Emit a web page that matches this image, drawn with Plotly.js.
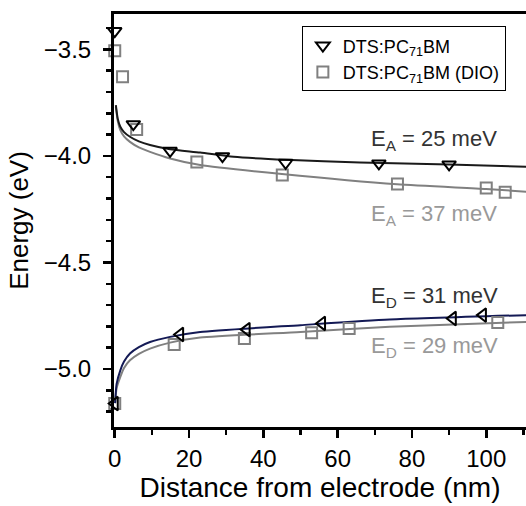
<!DOCTYPE html>
<html>
<head>
<meta charset="utf-8">
<script src="https://cdn.plot.ly/plotly-3.0.1.min.js"></script>
<style>html,body{margin:0;padding:0;background:#fff;overflow:hidden}#chart{width:526px;height:506px}</style>
</head>
<body>
<div id="chart"></div>
<script>
// Acceptor level (LUMO) data points
const accDtsX = [0, 5.0, 14.9, 29.0, 46.0, 71.1, 90.0];
const accDtsY = [-3.414, -3.851, -3.976, -4.001, -4.032, -4.035, -4.040];
const accDioX = [0, 2.1, 5.9, 22.1, 45.1, 76.1, 100.0, 105.1];
const accDioY = [-3.507, -3.629, -3.876, -4.028, -4.090, -4.132, -4.150, -4.171];
// Donor level (HOMO) data points
const donDtsX = [0, 17.6, 35.5, 55.8, 91.0, 99.1];
const donDtsY = [-5.162, -4.838, -4.815, -4.786, -4.763, -4.747];
const donDioX = [0, 16.0, 34.9, 53.0, 63.1, 103.1];
const donDioY = [-5.162, -4.885, -4.857, -4.830, -4.810, -4.782];
// Fit curves
const fitAccDtsX = [0.3, 0.8, 1.5, 2.5, 4.1, 6.5, 9.5, 14.9, 23, 32, 46, 66, 90, 111];
const fitAccDtsY = [-3.762, -3.825, -3.863, -3.888, -3.910, -3.932, -3.949, -3.969, -3.984, -4.004, -4.018, -4.031, -4.040, -4.051];
const fitAccDioX = [0.3, 0.8, 1.5, 2.5, 4.1, 6.5, 9.5, 14.9, 23, 45, 76, 100, 111];
const fitAccDioY = [-3.770, -3.835, -3.879, -3.908, -3.934, -3.960, -3.981, -4.012, -4.043, -4.085, -4.133, -4.155, -4.168];
const fitDonDtsX = [0.1, 0.5, 1.5, 2.5, 4.1, 6.5, 9.5, 14.9, 23, 50, 74, 111];
const fitDonDtsY = [-5.160, -5.070, -5.006, -4.965, -4.927, -4.897, -4.873, -4.849, -4.826, -4.794, -4.768, -4.747];
const fitDonDioX = [0.1, 0.5, 1.5, 2.5, 4.1, 6.5, 9.5, 14.9, 23, 50, 74, 111];
const fitDonDioY = [-5.160, -5.090, -5.037, -4.995, -4.959, -4.929, -4.904, -4.876, -4.852, -4.826, -4.802, -4.779];
const seriesNames = ['DTS:PC<sub>71</sub>BM', 'DTS:PC<sub>71</sub>BM (DIO)'];
const labelTexts = ['E<sub>A</sub> = 25 meV', 'E<sub>A</sub> = 37 meV', 'E<sub>D</sub> = 31 meV', 'E<sub>D</sub> = 29 meV'];

const GRAY = '#808080';
const DARK = '#1a1a1a';
const NAVY = '#141a55';

const line = (x, y, c) => ({x, y, mode: 'lines', type: 'scatter', showlegend: false, hoverinfo: 'skip',
  line: {color: c, width: 2, shape: 'spline', smoothing: 0.6}});

const traces = [
  line(fitAccDioX, fitAccDioY, GRAY),
  line(fitDonDioX, fitDonDioY, GRAY),
  line(fitAccDtsX, fitAccDtsY, DARK),
  line(fitDonDtsX, fitDonDtsY, NAVY),
  {x: accDioX, y: accDioY, type: 'scatter', mode: 'markers', name: seriesNames[1], legendrank: 2, cliponaxis: false,
   marker: {symbol: 'square-open', size: 11, color: GRAY, line: {width: 2, color: GRAY}}},
  {x: donDioX, y: donDioY, type: 'scatter', mode: 'markers', showlegend: false, cliponaxis: false,
   marker: {symbol: 'square-open', size: 11, color: GRAY, line: {width: 2, color: GRAY}}},
  {x: accDtsX, y: accDtsY, type: 'scatter', mode: 'markers', name: seriesNames[0], legendrank: 1, cliponaxis: false,
   marker: {symbol: 'triangle-down-open', size: 12, color: '#000', line: {width: 2, color: '#000'}}},
  {x: donDtsX, y: donDtsY, type: 'scatter', mode: 'markers', showlegend: false, cliponaxis: false,
   marker: {symbol: 'triangle-left-open', size: 12, color: '#000', line: {width: 2, color: '#000'}}}
];

const FONT = 'Liberation Sans, Arial, Helvetica, sans-serif';
const layout = {
  width: 526, height: 506,
  margin: {l: 114, r: 0, t: 14, b: 79},
  paper_bgcolor: '#fff', plot_bgcolor: '#fff',
  font: {family: FONT, color: '#000', size: 24},
  showlegend: true,
  legend: {x: 0.456, y: 0.97, xanchor: 'left', yanchor: 'top', bordercolor: '#000', borderwidth: 1,
    bgcolor: '#fff', font: {size: 18, family: FONT}, tracegroupgap: 0, itemwidth: 30},
  xaxis: {
    range: [-0.2, 110.7], showgrid: false, zeroline: false,
    showline: true, linecolor: '#000', linewidth: 3, mirror: true,
    ticks: 'outside', ticklen: 8, tickwidth: 2.5, tickcolor: '#000',
    tick0: 0, dtick: 20, tickfont: {size: 24},
    minor: {dtick: 10, ticks: 'outside', ticklen: 5, tickwidth: 2.5, tickcolor: '#000', showgrid: false},
    title: {text: 'Distance from electrode (nm)', font: {size: 28}, standoff: 6}
  },
  yaxis: {
    range: [-5.272, -3.334], showgrid: false, zeroline: false,
    showline: true, linecolor: '#000', linewidth: 3, mirror: false,
    ticks: 'outside', ticklen: 8, tickwidth: 2.5, tickcolor: '#000', ticklabelstandoff: 7,
    tick0: -5, dtick: 0.5, tickformat: '.1f', tickfont: {size: 24},
    minor: {dtick: 0.1, ticks: 'outside', ticklen: 5, tickwidth: 2.5, tickcolor: '#000', showgrid: false},
    title: {text: 'Energy (eV)', font: {size: 26}, standoff: 8}
  },
  annotations: [
    {x: 86, y: -3.926, text: labelTexts[0], showarrow: false, font: {size: 22, color: '#333'}},
    {x: 86, y: -4.278, text: labelTexts[1], showarrow: false, font: {size: 22, color: '#999'}},
    {x: 86, y: -4.661, text: labelTexts[2], showarrow: false, font: {size: 22, color: '#333'}},
    {x: 86, y: -4.896, text: labelTexts[3], showarrow: false, font: {size: 22, color: '#999'}}
  ]
};

Plotly.newPlot('chart', traces, layout, {displayModeBar: false, staticPlot: true});
</script>
</body>
</html>
